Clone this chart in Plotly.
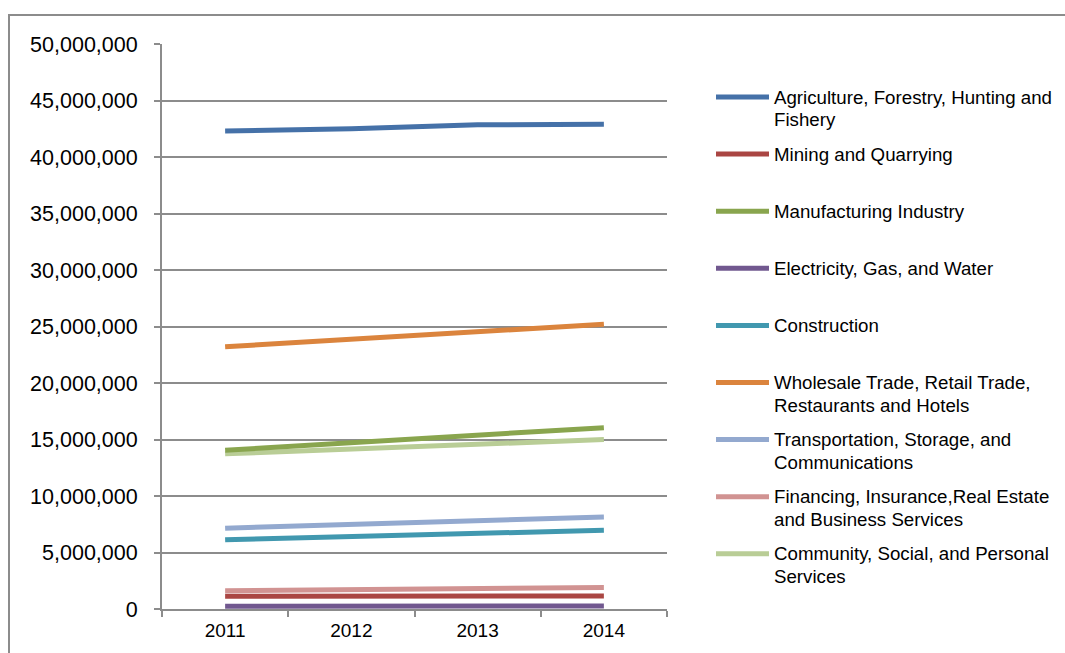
import plotly.graph_objects as go

# Employment by industry, 2011-2014
years = ["2011", "2012", "2013", "2014"]

agriculture = [42300000, 42500000, 42850000, 42900000]
mining = [1130000, 1140000, 1150000, 1160000]
manufacturing = [14050000, 14700000, 15400000, 16050000]
electricity = [250000, 255000, 260000, 270000]
construction = [6120000, 6400000, 6700000, 6970000]
wholesale = [23200000, 23900000, 24600000, 25200000]
transportation = [7150000, 7480000, 7820000, 8150000]
financing = [1620000, 1720000, 1820000, 1900000]
community = [13730000, 14150000, 14600000, 15000000]

# legend labels, one list entry per printed line
series_labels = [
    ["Agriculture, Forestry, Hunting and", "Fishery"],
    ["Mining and Quarrying"],
    ["Manufacturing Industry"],
    ["Electricity, Gas, and Water"],
    ["Construction"],
    ["Wholesale Trade, Retail Trade,", "Restaurants and Hotels"],
    ["Transportation, Storage, and", "Communications"],
    ["Financing, Insurance,Real Estate", "and Business Services"],
    ["Community, Social, and Personal", "Services"],
]
series_values = [agriculture, mining, manufacturing, electricity, construction,
                 wholesale, transportation, financing, community]
series_colors = ["#4571A8", "#AA4643", "#89A54E", "#71588F", "#4198AF",
                 "#DB843D", "#93A9CF", "#D19392", "#B9CD96"]

y_ticks = list(range(0, 50000001, 5000000))

W, H = 1065, 653
L, R, T, B = 162, 398, 44, 44
pw, ph = W - L - R, H - T - B


def px_x(x):
    return (x - L) / pw


def px_y(y):
    return (H - B - y) / ph


fig = go.Figure()

# Draw from the last series to the first so the earlier ones sit on top
for lines, vals, col in reversed(list(zip(series_labels, series_values, series_colors))):
    fig.add_trace(go.Scatter(
        x=years, y=vals, mode="lines", name=" ".join(lines),
        line=dict(color=col, width=5), showlegend=False,
        hoverinfo="x+y+name",
    ))

shapes = []
annotations = []

# outer chart border
shapes.append(dict(type="rect", xref="paper", yref="paper",
                   x0=px_x(9), x1=px_x(1075), y0=px_y(15), y1=px_y(700),
                   line=dict(color="#8c8c8c", width=2), fillcolor="rgba(0,0,0,0)",
                   layer="below"))

# legend drawn to the right of the plot
row0, row_step, line_step = 97, 57.1, 22.5
legend_font = dict(family="Arial, Liberation Sans, sans-serif", size=18.7,
                   color="#000000")
for i, (lines, col) in enumerate(zip(series_labels, series_colors)):
    yc = row0 + i * row_step
    shapes.append(dict(type="line", xref="paper", yref="paper",
                       x0=px_x(716), x1=px_x(769), y0=px_y(yc), y1=px_y(yc),
                       line=dict(color=col, width=5)))
    for j, text in enumerate(lines):
        annotations.append(dict(xref="paper", yref="paper", x=px_x(772),
                                y=px_y(yc + j * line_step),
                                xanchor="left", yanchor="middle", align="left",
                                text=text, showarrow=False, font=legend_font))

fig.update_layout(
    width=W, height=H,
    margin=dict(l=L, r=R, t=T, b=B),
    paper_bgcolor="white", plot_bgcolor="white",
    shapes=shapes, annotations=annotations,
    xaxis=dict(
        type="category", categoryorder="array", categoryarray=years,
        showgrid=False, showline=True, linecolor="#8c8c8c", linewidth=2,
        ticks="outside", tickson="boundaries", ticklen=6, tickwidth=2,
        tickcolor="#8c8c8c", ticklabelstandoff=3,
        tickfont=dict(family="Liberation Sans Narrow, Arial Narrow, Arial, sans-serif",
                      size=19, color="#000000"),
        range=[-0.5, 3.5], zeroline=False,
    ),
    yaxis=dict(
        range=[0, 50000000], tickvals=y_ticks,
        ticktext=[f"{v:,}" for v in y_ticks],
        showgrid=True, gridcolor="#8c8c8c", gridwidth=2,
        showline=True, linecolor="#8c8c8c", linewidth=2,
        ticks="outside", ticklen=6, tickwidth=2, tickcolor="#8c8c8c",
        ticklabelstandoff=12,
        tickfont=dict(family="Arial, Liberation Sans, sans-serif", size=21.5,
                      color="#000000"),
        zeroline=False,
    ),
)

fig.write_html("out.html")
